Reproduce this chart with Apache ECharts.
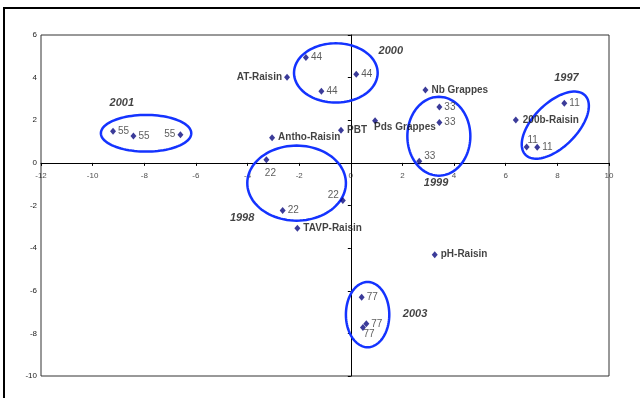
<!DOCTYPE html>
<html>
<head>
<meta charset="utf-8">
<script src="https://cdn.jsdelivr.net/npm/echarts@6/dist/echarts.min.js"></script>
<style>
  html, body { margin: 0; padding: 0; background: #fff; }
  #chart { width: 640px; height: 398px; }
</style>
</head>
<body>
<div id="chart"></div>
<script>
// Observations (individuals), coded by vintage
const obsX = [-9.21, -8.42, -6.60, -1.74, -1.14, 0.21, -3.27, -2.64, -0.31, 3.43, 3.43, 2.65, 8.27, 6.81, 7.22, 0.42, 0.60, 0.47];
const obsY = [1.48, 1.26, 1.32, 4.94, 3.36, 4.16, 0.15, -2.24, -1.77, 2.62, 1.90, 0.08, 2.80, 0.75, 0.73, -6.31, -7.55, -7.72];
const obsLabel = ['55', '55', '55', '44', '44', '44', '22', '22', '22', '33', '33', '33', '11', '11', '11', '77', '77', '77'];

// Variables
const varX = [-2.47, -3.05, -2.07, -0.38, 0.94, 2.89, 6.39, 3.25];
const varY = [4.02, 1.18, -3.07, 1.53, 1.98, 3.42, 2.01, -4.31];
const varName = ['AT-Raisin', 'Antho-Raisin', 'TAVP-Raisin', 'PBT', 'Pds Grappes', 'Nb Grappes', '200b-Raisin', 'pH-Raisin'];

// Vintage annotations
const yearText = ['2001', '2000', '1997', '1999', '1998', '2003'];
const yearX = [-8.87, 1.55, 8.35, 3.30, -4.21, 2.49];
const yearY = [2.83, 5.25, 3.97, -0.94, -2.60, -7.08];

// Vintage groupings: centre x, centre y, radius x, radius y (axis units), tilt (deg)
const groupCx = [-7.93, -0.58, -2.10, 3.41, 7.92, 0.65];
const groupCy = [1.39, 4.22, -0.95, 1.25, 1.77, -7.12];
const groupRx = [1.75, 1.62, 1.91, 1.22, 1.63, 0.84];
const groupRy = [0.86, 1.39, 1.76, 1.85, 1.03, 1.53];
const groupTilt = [0, 0, 0, 0, 45, 0];

// Tick range and the horizontal axis tick labels (written along the zero line)
const xMin = -12, xMax = 10, xStep = 2;
const yMin = -10, yMax = 6, yStep = 2;
const xTicks = [-12, -10, -8, -6, -4, -2, 0, 2, 4, 6, 8, 10];
const xTickText = ['-12', '-10', '-8', '-6', '-4', '-2', '0', '2', '4', '6', '8', '10'];

// Label placement for the observation labels: [position, distance, dx, dy]
const obsPlace = [
  ['right', 2, 0, 0], ['right', 2, 0, 0], ['left', 2, 0, 0],
  ['right', 2, 0, 0], ['right', 2, 0, 0], ['right', 2, 0, 0],
  ['bottom', 5, 4, 0], ['right', 2, 0, 0], ['left', 1, 0, -5],
  ['right', 2, 0, 0], ['right', 2, 0, 0], ['right', 2, 0, -5],
  ['right', 2, 0, 0], ['top', 0, 6, 2], ['right', 2, 0, 0],
  ['right', 2, 0, 0], ['right', 2, 0, 0], ['bottom', 0, 6, -2]
];
const varPlace = [
  ['left', 2, 0, 0], ['right', 3, 0, 0], ['right', 3, 0, 0], ['right', 3, 0, 0],
  ['right', 2, -6, 7], ['right', 3, 0, 0], ['right', 4, 0, 0], ['right', 3, 0, 0]
];

const FONT = '"Liberation Sans", Arial, sans-serif';
const MARK = '#0a0a80';
const RING = '#1433ff';

function placed(x, y, text, p) {
  return {
    value: [x, y],
    name: text,
    label: { position: p[0], distance: p[1], offset: [p[2], p[3]] }
  };
}

const obsData = obsX.map((x, i) => placed(x, obsY[i], obsLabel[i], obsPlace[i]));
const varData = varX.map((x, i) => placed(x, varY[i], varName[i], varPlace[i]));
const yearData = yearX.map((x, i) => ({ value: [x, yearY[i]], name: yearText[i] }));
const ringData = groupCx.map((cx, i) => [cx, groupCy[i], groupRx[i], groupRy[i], groupTilt[i]]);
const xTickData = xTicks.map((v, i) => ({ value: [v, 0], name: xTickText[i] }));

function renderRing(params, api) {
  const c = api.coord([api.value(0), api.value(1)]);
  const s = api.size([api.value(2), api.value(3)]);
  const t = api.value(4) * Math.PI / 180;
  const pts = [];
  for (let k = 0; k < 96; k++) {
    const a = k / 96 * Math.PI * 2;
    const ex = s[0] * Math.cos(a);
    const ey = s[1] * Math.sin(a);
    pts.push([c[0] + ex * Math.cos(t) + ey * Math.sin(t), c[1] - ex * Math.sin(t) + ey * Math.cos(t)]);
  }
  return {
    type: 'polygon',
    shape: { points: pts },
    style: { fill: 'none', stroke: RING, lineWidth: 2.5 }
  };
}

const tickLabel = { fontFamily: FONT, fontSize: 8, color: '#222', margin: 4 };
const axisLineStyle = { color: '#000', width: 1 };

function axis(min, max, step, pos, labels) {
  return {
    type: 'value', min: min, max: max, interval: step, position: pos,
    axisLine: { onZero: true, lineStyle: axisLineStyle },
    axisTick: { show: true, length: 3, lineStyle: axisLineStyle },
    axisLabel: labels ? tickLabel : { show: false },
    splitLine: { show: false }
  };
}

const chart = echarts.init(document.getElementById('chart'), null, { renderer: 'canvas' });
chart.setOption({
  animation: false,
  backgroundColor: '#fff',
  graphic: [{
    type: 'polyline',
    shape: { points: [[4, 600], [4, 8], [900, 8]] },
    style: { fill: 'none', stroke: '#000', lineWidth: 2 },
    z: 100
  }],
  grid: {
    left: 41, top: 35, right: 31, bottom: 22,
    show: true, borderColor: '#333', borderWidth: 1, backgroundColor: '#fff'
  },
  xAxis: axis(xMin, xMax, xStep, 'bottom', false),
  yAxis: axis(yMin, yMax, yStep, 'left', true),
  series: [{
    type: 'scatter',
    name: 'x ticks',
    symbol: 'circle',
    symbolSize: 1,
    silent: true,
    clip: false,
    itemStyle: { color: 'rgba(0,0,0,0)' },
    label: {
      show: true, position: 'bottom', distance: 8, formatter: '{b}',
      fontFamily: FONT, fontSize: 8, color: '#222'
    },
    labelLayout: { hideOverlap: false },
    data: xTickData,
    z: 2
  }, {
    type: 'custom',
    name: 'groups',
    renderItem: renderRing,
    data: ringData,
    encode: { x: 0, y: 1 },
    silent: true,
    z: 3
  }, {
    type: 'scatter',
    name: 'observations',
    symbol: 'diamond',
    symbolSize: [6, 7],
    itemStyle: { color: MARK },
    label: {
      show: true, formatter: '{b}',
      fontFamily: FONT, fontSize: 10, color: '#333'
    },
    data: obsData,
    z: 4
  }, {
    type: 'scatter',
    name: 'variables',
    symbol: 'diamond',
    symbolSize: [6, 7],
    itemStyle: { color: MARK },
    label: {
      show: true, formatter: '{b}',
      fontFamily: FONT, fontSize: 10, fontWeight: 'bold', color: '#111'
    },
    data: varData,
    z: 4
  }, {
    type: 'scatter',
    name: 'vintages',
    symbol: 'circle',
    symbolSize: 1,
    itemStyle: { color: 'rgba(0,0,0,0)' },
    label: {
      show: true, position: 'inside', formatter: '{b}',
      fontFamily: FONT, fontSize: 11, fontWeight: 'bold', fontStyle: 'italic', color: '#111'
    },
    data: yearData,
    z: 4
  }]
});
</script>
</body>
</html>
